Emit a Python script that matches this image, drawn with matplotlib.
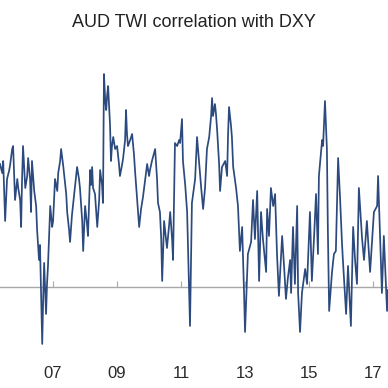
import matplotlib
matplotlib.use("Agg")
import matplotlib.pyplot as plt

# correlation series (decimal year, value)
years = [
    2005.34, 2005.41, 2005.44, 2005.50, 2005.56, 2005.63, 2005.66, 2005.72, 2005.75, 2005.81,
    2005.88, 2005.91, 2005.97, 2006.00, 2006.03, 2006.06, 2006.13, 2006.19, 2006.22, 2006.28,
    2006.31, 2006.34, 2006.41, 2006.47, 2006.50, 2006.56, 2006.59, 2006.66, 2006.69, 2006.72,
    2006.78, 2006.81, 2006.84, 2006.91, 2006.97, 2007.00, 2007.06, 2007.13, 2007.16, 2007.22,
    2007.25, 2007.31, 2007.34, 2007.41, 2007.44, 2007.50, 2007.53, 2007.59, 2007.63, 2007.69,
    2007.75, 2007.81, 2007.84, 2007.91, 2007.94, 2008.00, 2008.06, 2008.09, 2008.16, 2008.19,
    2008.22, 2008.25, 2008.31, 2008.38, 2008.44, 2008.47, 2008.53, 2008.56, 2008.59, 2008.63,
    2008.66, 2008.69, 2008.72, 2008.78, 2008.81, 2008.84, 2008.88, 2008.94, 2009.00, 2009.06,
    2009.09, 2009.16, 2009.19, 2009.25, 2009.28, 2009.31, 2009.34, 2009.41, 2009.47, 2009.53,
    2009.56, 2009.63, 2009.69, 2009.75, 2009.81, 2009.88, 2009.94, 2010.00, 2010.03, 2010.09,
    2010.19, 2010.25, 2010.28, 2010.34, 2010.38, 2010.41, 2010.44, 2010.47, 2010.53, 2010.56,
    2010.63, 2010.66, 2010.72, 2010.75, 2010.78, 2010.81, 2010.88, 2010.94, 2010.97, 2011.03,
    2011.06, 2011.13, 2011.19, 2011.22, 2011.28, 2011.34, 2011.44, 2011.50, 2011.56, 2011.63,
    2011.69, 2011.75, 2011.81, 2011.88, 2011.94, 2011.97, 2012.00, 2012.06, 2012.09, 2012.13,
    2012.19, 2012.22, 2012.28, 2012.38, 2012.44, 2012.47, 2012.50, 2012.56, 2012.59, 2012.63,
    2012.72, 2012.78, 2012.84, 2012.91, 2012.97, 2013.00, 2013.06, 2013.09, 2013.19, 2013.25,
    2013.31, 2013.38, 2013.44, 2013.50, 2013.56, 2013.66, 2013.69, 2013.75, 2013.81, 2013.88,
    2013.94, 2014.00, 2014.06, 2014.16, 2014.22, 2014.28, 2014.34, 2014.41, 2014.44, 2014.50,
    2014.56, 2014.63, 2014.66, 2014.72, 2014.78, 2014.88, 2014.94, 2015.03, 2015.09, 2015.16,
    2015.22, 2015.28, 2015.31, 2015.41, 2015.44, 2015.50, 2015.56, 2015.59, 2015.63, 2015.72,
    2015.78, 2015.84, 2015.91, 2015.97, 2016.03, 2016.06, 2016.16, 2016.22, 2016.31, 2016.38,
    2016.44, 2016.50, 2016.56, 2016.66, 2016.72, 2016.81, 2016.91, 2016.97, 2017.03, 2017.13,
    2017.16, 2017.22, 2017.28, 2017.34, 2017.44, 2017.47,
]
corr = [
    0.41, 0.38, 0.42, 0.22, 0.36, 0.39, 0.41, 0.46, 0.47, 0.29,
    0.36, 0.33, 0.29, 0.20, 0.36, 0.47, 0.33, 0.37, 0.43, 0.36,
    0.25, 0.42, 0.32, 0.27, 0.19, 0.09, 0.14, -0.19, -0.04, 0.08,
    -0.09, 0.01, 0.07, 0.27, 0.20, 0.22, 0.36, 0.32, 0.38, 0.42,
    0.46, 0.41, 0.38, 0.31, 0.25, 0.19, 0.15, 0.24, 0.28, 0.34,
    0.40, 0.36, 0.33, 0.22, 0.12, 0.27, 0.21, 0.17, 0.39, 0.34,
    0.40, 0.33, 0.31, 0.20, 0.29, 0.39, 0.34, 0.28, 0.71, 0.62,
    0.59, 0.64, 0.67, 0.54, 0.42, 0.47, 0.50, 0.46, 0.47, 0.41,
    0.37, 0.41, 0.43, 0.49, 0.59, 0.51, 0.47, 0.49, 0.51, 0.44,
    0.39, 0.29, 0.20, 0.26, 0.30, 0.36, 0.41, 0.37, 0.39, 0.42,
    0.46, 0.36, 0.28, 0.25, 0.16, 0.02, 0.12, 0.22, 0.16, 0.13,
    0.21, 0.25, 0.16, 0.09, 0.29, 0.48, 0.47, 0.49, 0.48, 0.56,
    0.42, 0.34, 0.25, 0.12, -0.13, 0.28, 0.36, 0.50, 0.42, 0.33,
    0.26, 0.33, 0.46, 0.50, 0.57, 0.63, 0.57, 0.61, 0.58, 0.52,
    0.41, 0.32, 0.40, 0.42, 0.37, 0.51, 0.60, 0.54, 0.50, 0.40,
    0.33, 0.27, 0.12, 0.20, -0.02, -0.15, 0.02, 0.11, 0.15, 0.29,
    0.16, 0.32, 0.02, 0.25, 0.16, 0.05, 0.26, 0.17, 0.33, 0.27,
    0.31, 0.11, -0.03, 0.17, 0.07, -0.04, 0.03, 0.09, -0.02, 0.20,
    0.01, 0.27, -0.02, -0.15, -0.02, 0.06, 0.01, 0.25, 0.02, 0.17,
    0.31, 0.11, 0.37, 0.49, 0.47, 0.62, 0.46, 0.19, -0.08, 0.05,
    0.11, 0.12, 0.43, 0.30, 0.15, 0.09, -0.09, 0.07, -0.13, 0.20,
    0.09, 0.01, 0.33, 0.16, 0.09, 0.22, 0.05, 0.15, 0.25, 0.27,
    0.37, 0.18, -0.02, 0.17, -0.08, -0.01,
]
tick_years = [2007, 2009, 2011, 2013, 2015, 2017]
tick_labels = ["07", "09", "11", "13", "15", "17"]

plt.rcParams['font.family'] = ['Liberation Sans', 'DejaVu Sans']

fig = plt.figure(figsize=(3.88, 3.88), dpi=100)
ax = fig.add_axes([0, 0, 1, 1])
ax.set_xlim(2005.34, 2017.47)
ax.set_ylim(-0.337, 0.957)

ax.plot(years, corr, color='#2c4a7e', lw=1.25, zorder=3)

# zero line acts as the x axis
for side in ['top', 'right', 'left']:
    ax.spines[side].set_visible(False)
ax.spines['bottom'].set_position(('data', 0))
ax.spines['bottom'].set_color('#a8a8a8')
ax.spines['bottom'].set_linewidth(1.0)
ax.set_xticks(tick_years)
ax.set_xticklabels(tick_labels)
ax.tick_params(axis='x', direction='in', length=4, width=0.8, color='#a8a8a8',
               pad=57, labelsize=12, labelcolor='#2a2a2a')
ax.set_yticks([])

fig.text(0.5, 0.943, "AUD TWI correlation with DXY", ha='center', va='center',
         fontsize=13, color='#222222')

fig.savefig("out.png", dpi=100)
